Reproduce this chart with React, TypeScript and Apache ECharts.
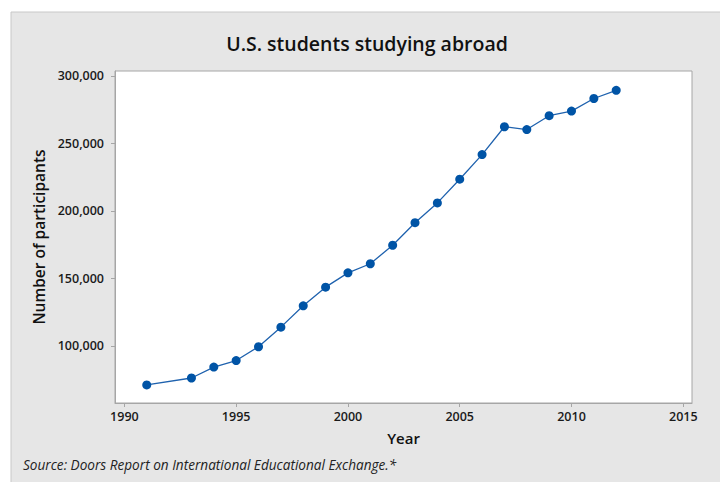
import React, { useEffect, useRef } from "react";
import * as echarts from "echarts";

const years = [1991, 1993, 1994, 1995, 1996, 1997, 1998, 1999, 2000, 2001, 2002, 2003, 2004, 2005, 2006, 2007, 2008, 2009, 2010, 2011, 2012];
const participants = [71154, 76302, 84403, 89242, 99448, 113959, 129770, 143590, 154168, 160920, 174629, 191321, 205983, 223534, 241791, 262416, 260327, 270604, 273996, 283332, 289408];
const xTicks = [1990, 1995, 2000, 2005, 2010, 2015];
const yTicks = [100000, 150000, 200000, 250000, 300000];

const FONT = "'Open Sans', 'Noto Sans', sans-serif";

export default function App() {
  const ref = useRef<HTMLDivElement>(null);
  useEffect(() => {
    if (!ref.current) return;
    const chart = echarts.init(ref.current, undefined, { renderer: "svg" });
    chart.setOption({
      animation: false,
      backgroundColor: "#ffffff",
      textStyle: { fontFamily: FONT },
      graphic: [
        {
          type: "rect",
          z: -10,
          silent: true,
          shape: { x: 11, y: 12, width: 720, height: 480 },
          style: { fill: "#e6e6e6", stroke: "#c8c8c8", lineWidth: 1 },
        },
        {
          type: "text",
          x: 367,
          y: 43,
          style: {
            text: "U.S. students studying abroad",
            fontFamily: FONT,
            fontSize: 19.5,
            fontWeight: 600,
            fill: "#111",
            align: "center",
            verticalAlign: "middle",
          },
        },
        {
          type: "text",
          x: 23,
          y: 464,
          style: {
            text: "Source: Doors Report on International Educational Exchange.*",
            fontFamily: FONT,
            fontSize: 13.6,
            fontStyle: "italic",
            fill: "#222",
            align: "left",
            verticalAlign: "middle",
          },
        },
      ],
      grid: {
        left: 115,
        top: 71,
        right: 28,
        bottom: 79,
        show: true,
        backgroundColor: "#ffffff",
        borderColor: "#a6a6a6",
        borderWidth: 1,
      },
      xAxis: {
        type: "value",
        min: 1989.58,
        max: 2015.39,
        name: "Year",
        nameLocation: "middle",
        nameGap: 27,
        nameTextStyle: { fontFamily: FONT, fontSize: 15, fontWeight: 600, color: "#111" },
        splitLine: { show: false },
        axisLine: { show: true, lineStyle: { color: "#a6a6a6" } },
        axisTick: { show: true, length: 4, customValues: xTicks, lineStyle: { color: "#a6a6a6" } },
        axisLabel: {
          customValues: xTicks,
          fontFamily: FONT,
          fontSize: 12.5,
          fontWeight: 600,
          color: "#1a1a1a",
          margin: 7,
          formatter: (v: number) => String(v),
        },
      },
      yAxis: {
        type: "value",
        min: 57778,
        max: 303700,
        name: "Number of participants",
        nameLocation: "middle",
        nameGap: 62,
        nameRotate: 90,
        nameTextStyle: { fontFamily: FONT, fontSize: 15.5, fontWeight: 600, color: "#111" },
        splitLine: { show: false },
        axisLine: { show: true, lineStyle: { color: "#a6a6a6" } },
        axisTick: { show: true, length: 4, customValues: yTicks, lineStyle: { color: "#a6a6a6" } },
        axisLabel: {
          customValues: yTicks,
          fontFamily: FONT,
          fontSize: 12.5,
          fontWeight: 600,
          color: "#1a1a1a",
          margin: 11,
          formatter: (v: number) => v.toLocaleString("en-US"),
        },
      },
      series: [
        {
          type: "line",
          data: years.map((y, i) => [y, participants[i]]),
          symbol: "circle",
          symbolSize: 9,
          itemStyle: { color: "#0054a6" },
          lineStyle: { color: "#1f62ae", width: 1.3 },
        },
      ],
    });
    return () => chart.dispose();
  }, []);
  return (
    <div
      ref={ref}
      style={{ position: "fixed", left: 0, top: 0, width: 720, height: 482 }}
    />
  );
}
